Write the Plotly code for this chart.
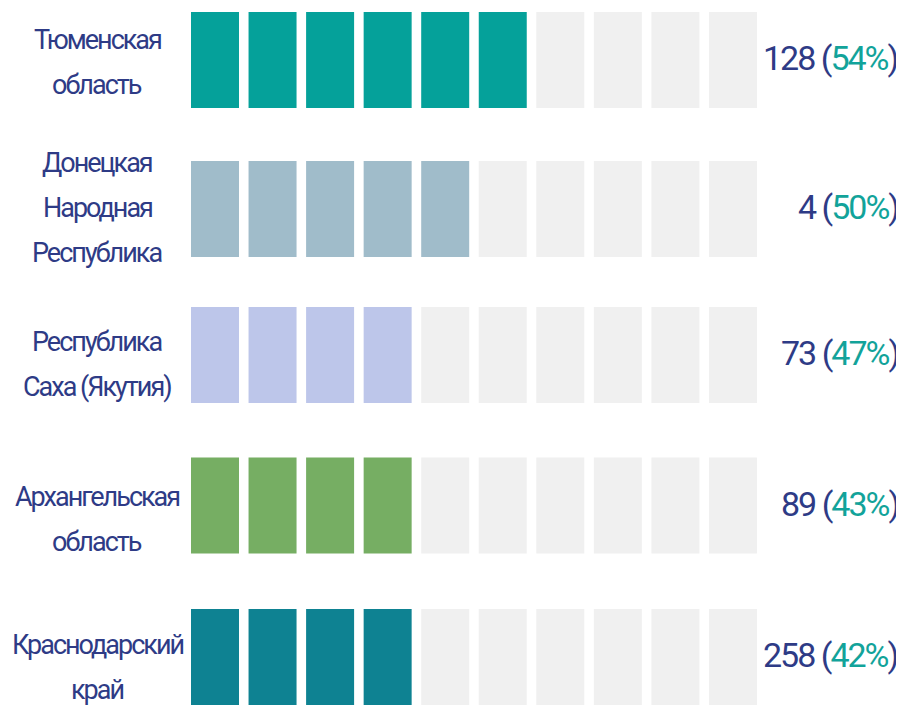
import plotly.graph_objects as go

regions = [["Тюменская", "область"],
           ["Донецкая", "Народная", "Республика"],
           ["Республика", "Саха (Якутия)"],
           ["Архангельская", "область"],
           ["Краснодарский", "край"]]
counts = [128, 4, 73, 89, 258]
percents = [54, 50, 47, 43, 42]
filled_cells = [6, 5, 4, 4, 4]
colors = ["#05A19A", "#A0BCCA", "#BDC6EA", "#76AE63", "#0E8292"]
total_cells = 10

# layout helpers (row placement in row units, label vertical nudges in px)
row_pos = [0, 0.998, 1.977, 2.985, 4.0]
label_nudge = [-2, 1, -9, -14, -10]

EMPTY = "#F0F0F0"
NAVY = "#2E3B86"
TEAL = "#12A39A"
FONT = "Roboto, sans-serif"
TIGHT = "letter-spacing:-2px"

W, H = 904, 707
OFF = 8  # page body margin
pitch_x = 57.55
c0_x = 215 - OFF
pitch_y = 149.25
r0_y = 60 - OFF
cell_h = 96 / pitch_y
cell_w = 48 / pitch_x
line_gap = 45

fig = go.Figure()
for r, (n, col, yp) in enumerate(zip(filled_cells, colors, row_pos)):
    xs = list(range(total_cells))
    fig.add_trace(go.Bar(
        x=xs, y=[cell_h] * total_cells, base=[yp - cell_h / 2] * total_cells,
        width=cell_w,
        marker=dict(color=[col if i < n else EMPTY for i in xs], line=dict(width=0)),
        hoverinfo="skip", showlegend=False))

for r, (lines, c, p, yp) in enumerate(zip(regions, counts, percents, row_pos)):
    k = len(lines)
    for j, line in enumerate(lines):
        shift = ((k - 1) / 2 - j) * line_gap + label_nudge[r]
        fig.add_annotation(x=(97 - OFF) / W, xref="paper", y=yp, yref="y",
                           text=f"<span style='{TIGHT}'>{line}</span>",
                           showarrow=False, xanchor="center", yanchor="middle",
                           yshift=shift,
                           font=dict(family=FONT, size=27, color=NAVY))
    fig.add_annotation(x=(900 - OFF) / W, xref="paper", y=yp, yref="y",
                       text=f"<span style='{TIGHT}'>{c}&nbsp;(<span style='color:{TEAL}'>{p}%</span>)</span>",
                       showarrow=False, xanchor="right", yanchor="middle",
                       yshift=2,
                       font=dict(family=FONT, size=34, color=NAVY))

fig.update_layout(
    width=W, height=H, margin=dict(l=0, r=0, t=0, b=0),
    paper_bgcolor="white", plot_bgcolor="white", barmode="overlay",
    xaxis=dict(range=[-c0_x / pitch_x, (W - c0_x) / pitch_x], visible=False, fixedrange=True),
    yaxis=dict(range=[(H - r0_y) / pitch_y, -r0_y / pitch_y], visible=False, fixedrange=True),
)
fig.write_html("out.html")
